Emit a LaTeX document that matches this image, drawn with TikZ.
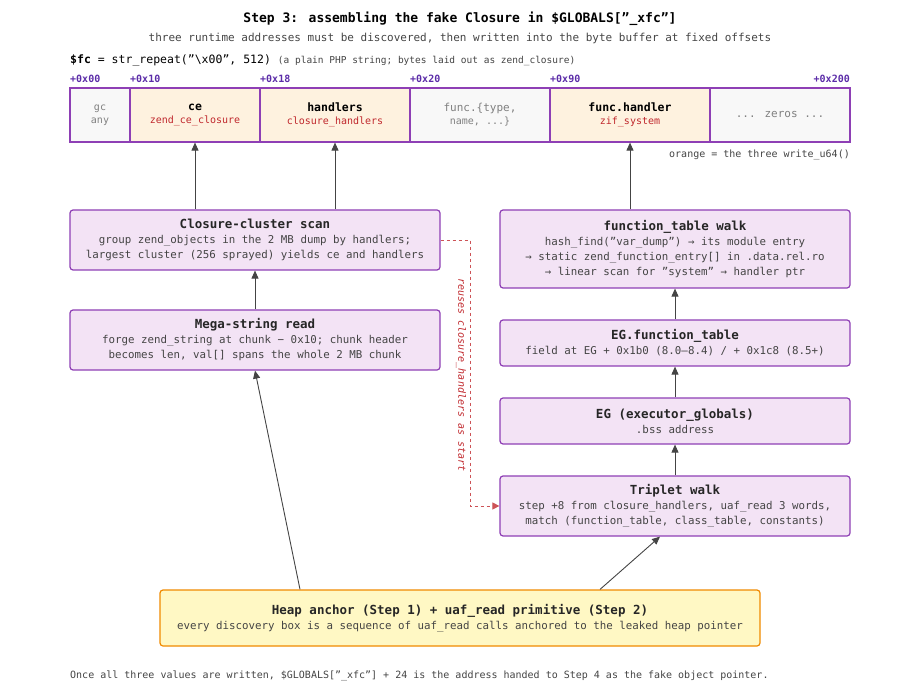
\documentclass[tikz,border=0pt]{standalone}
\usepackage{fontspec}
\setmainfont{DejaVu Sans Mono}
\setmonofont{DejaVu Sans Mono}
\usepackage{tikz}
\usetikzlibrary{positioning, arrows.meta}
\definecolor{boxline}{HTML}{8E3FB5}
\definecolor{boxfill}{HTML}{F3E3F5}
\definecolor{cellor}{HTML}{FEF2DF}
\definecolor{cellgr}{HTML}{F8F8F8}
\definecolor{redtxt}{HTML}{C0282D}
\definecolor{offs}{HTML}{5B2CA8}
\definecolor{anchfill}{HTML}{FFF8C4}
\definecolor{anchline}{HTML}{F08A00}
\definecolor{txt}{HTML}{444444}

\tikzset{
  cell/.style={draw=boxline, line width=1.2pt, minimum height=54pt, inner sep=0pt, align=center, font=\fontsize{10}{13}\selectfont},
  stage/.style={draw=boxline, fill=boxfill, line width=1.2pt, rounded corners=3pt, minimum width=350pt, inner sep=0pt, align=center, font=\fontsize{10.8}{15}\selectfont, text=txt},
  off/.style={font=\fontsize{10}{12}\bfseries\selectfont, text=offs, anchor=south west, inner sep=0pt},
  arr/.style={-{Triangle[length=8pt,width=7pt]}, draw=txt, line width=0.9pt},
}
\newcommand{\ttl}[1]{{\fontsize{12.5}{17}\bfseries\selectfont\color{black!85}#1}}

\begin{document}
\begin{tikzpicture}[x=1pt, y=-1pt]
\useasboundingbox (0,0) rectangle (920,700);

% titles
\node (title) at (460,19) {\fontsize{13}{15}\bfseries\selectfont Step 3: assembling the fake Closure in \$GLOBALS["\_xfc"]};
\node[text=txt] (sub) at (460,38) {\fontsize{11}{13}\selectfont three runtime addresses must be discovered, then written into the byte buffer at fixed offsets};
\node[anchor=west, inner sep=0pt] (fc) at (70,60) {\fontsize{11.5}{13}\selectfont\textbf{\$fc} = str\_repeat("\textbackslash x00", 512) {\fontsize{9.5}{11}\selectfont\color{txt}(a plain PHP string; bytes laid out as zend\_closure)}};

% byte buffer
\node[cell, fill=cellgr, minimum width=60pt, text=gray] (gc) at (100,115) {gc\\any};
\node[cell, fill=cellor, minimum width=130pt] (ce) at (195,115) {\fontsize{11.5}{15}\bfseries\selectfont ce\\\color{redtxt}zend\_ce\_closure};
\node[cell, fill=cellor, minimum width=150pt] (hd) at (335,115) {\fontsize{11.5}{15}\bfseries\selectfont handlers\\\color{redtxt}closure\_handlers};
\node[cell, fill=cellgr, minimum width=140pt, text=gray] (fn) at (480,115) {\fontsize{11}{13}\selectfont func.\{type,\\name, ...\}};
\node[cell, fill=cellor, minimum width=160pt] (fh) at (630,115) {\fontsize{11.5}{15}\bfseries\selectfont func.handler\\\color{redtxt}zif\_system};
\node[cell, fill=cellgr, minimum width=140pt, text=gray] (zr) at (780,115) {\fontsize{11}{13}\selectfont ... zeros ...};

\node[off] at (70,83) {+0x00};
\node[off] at (130,83) {+0x10};
\node[off] at (260,83) {+0x18};
\node[off] at (410,83) {+0x20};
\node[off] at (550,83) {+0x90};
\node[off, anchor=south east] at (850,83) {+0x200};
\node[anchor=east, inner sep=0pt, text=txt] (legend) at (850,155) {\fontsize{10}{12}\selectfont orange = the three write\_u64()};

% discovery steps
\node[stage, minimum width=370pt, minimum height=60pt] (scan) at (255,240) {\ttl{Closure-cluster scan}\\group zend\_objects in the 2 MB dump by handlers;\\largest cluster (256 sprayed) yields ce and handlers};
\node[stage, minimum width=370pt, minimum height=60pt] (mega) at (255,340) {\ttl{Mega-string read}\\forge zend\_string at chunk − 0x10; chunk header\\becomes len, val[] spans the whole 2 MB chunk};
\node[stage, minimum height=78pt] (ftw) at (675,249) {\ttl{function\_table walk}\\hash\_find("var\_dump") → its module entry\\→ static zend\_function\_entry[] in .data.rel.ro\\→ linear scan for "system" → handler ptr};
\node[stage, minimum height=46pt] (egft) at (675,343) {\ttl{EG.function\_table}\\field at EG + 0x1b0 (8.0–8.4) / + 0x1c8 (8.5+)};
\node[stage, minimum height=46pt] (eg) at (675,421) {\ttl{EG (executor\_globals)}\\.bss address};
\node[stage, minimum height=60pt] (trip) at (675,506) {\ttl{Triplet walk}\\step +8 from closure\_handlers, uaf\_read 3 words,\\match (function\_table, class\_table, constants)};
\node[stage, draw=anchline, fill=anchfill, minimum width=600pt, minimum height=56pt] (heap) at (460,618) {\ttl{Heap anchor (Step 1) + uaf\_read primitive (Step 2)}\\every discovery box is a sequence of uaf\_read calls anchored to the leaked heap pointer};

% connectors
\draw[arr] (scan.north -| ce) -- (ce.south);
\draw[arr] (scan.north -| hd) -- (hd.south);
\draw[arr] (ftw.north -| fh) -- (fh.south);
\draw[arr] (mega) -- (scan);
\draw[arr] (egft) -- (ftw);
\draw[arr] (eg) -- (egft);
\draw[arr] (trip) -- (eg);
\draw[arr] ([xshift=-160pt]heap.north) -- (mega.south);
\draw[arr] ([xshift=140pt]heap.north) -- ([xshift=-15pt]trip.south);
\coordinate (d1) at (470,240);
\coordinate (d2) at (470,506);
\draw[draw=redtxt!80, dashed, line width=0.9pt, -{Triangle[length=7pt,width=7pt]}] (scan.east) -- (d1) -- (d2) -- (trip.west);
\node[rotate=-90, text=redtxt, inner sep=0pt] (reuse) at (461,375) {\fontsize{10}{12}\itshape\selectfont reuses closure\_handlers as start};

% footnote
\node[anchor=west, inner sep=0pt, text=txt] (foot) at (70,676) {\fontsize{10}{12}\selectfont Once all three values are written, \$GLOBALS["\_xfc"] + 24 is the address handed to Step 4 as the fake object pointer.};
\end{tikzpicture}
\end{document}
